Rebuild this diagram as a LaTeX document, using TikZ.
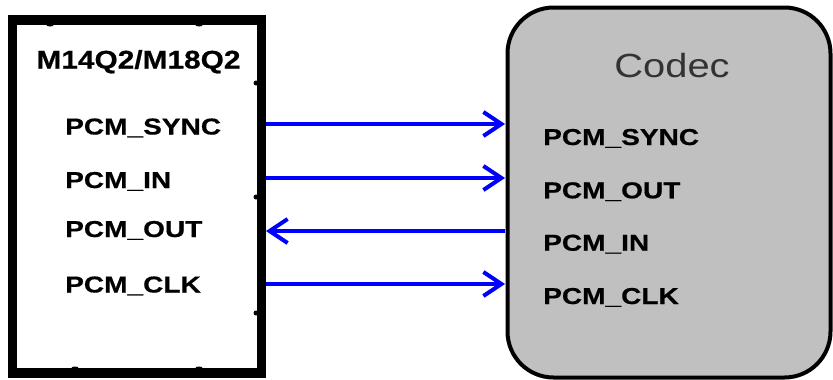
\documentclass[tikz,border=0pt]{standalone}
\usepackage{fontspec}
\setmainfont{Liberation Sans}
\newfontfamily\lblfont[FakeStretch=1.22,FakeBold=0.6]{Liberation Sans Bold}
\newfontfamily\ttlfont[FakeStretch=1.19]{Liberation Sans}
\newfontfamily\ttlbfont[FakeStretch=1.17,FakeBold=0.5]{Liberation Sans Bold}
\usetikzlibrary{arrows.meta,shapes.geometric}
\definecolor{codecgray}{HTML}{C0C0C0}
\definecolor{sigblue}{HTML}{0000FF}
\tikzset{
  lbl/.style={anchor=base west, inner sep=0pt, font=\lblfont\fontsize{23}{27}\selectfont, text=black},
  sig/.style={draw=sigblue, line width=4pt, -{Straight Barb[length=18pt,width=24pt]}},
  pin/.style={fill=black, circle, inner sep=0pt, minimum size=5pt},
  hpin/.style={fill=black, ellipse, inner sep=0pt, minimum width=7pt, minimum height=3pt}
}
\begin{document}
\begin{tikzpicture}[x=1pt,y=-1pt]
\useasboundingbox (0,0) rectangle (833,380);
% codec box
\draw[line width=4pt, fill=codecgray, rounded corners=46pt] (507.5,7.5) rectangle (830.5,377.5);
\node[anchor=base, inner sep=0pt, font=\ttlfont\fontsize{33.5}{38}\selectfont, text=black!80] (codec) at (672,77) {Codec};
% module box
\draw[line width=9.5pt] (12.5,20) rectangle (261.5,373);
\node[anchor=base, inner sep=0pt, font=\ttlbfont\fontsize{25.5}{30}\selectfont] (mod) at (138.5,68.5) {M14Q2/M18Q2};
% pins on module border
\node[pin] (p1) at (256,83) {};
\node[pin] (p2) at (256,197) {};
\node[pin] (p3) at (256,313) {};
\node[hpin] (p4) at (50,25) {};
\node[hpin] (p5) at (199,25) {};
\node[hpin] (p6) at (75,368) {};
\node[hpin] (p7) at (199,368) {};
% left labels
\node[lbl] (lsync) at (65,134.5) {PCM\_SYNC};
\node[lbl] (lin) at (65,188) {PCM\_IN};
\node[lbl] (lout) at (65,237) {PCM\_OUT};
\node[lbl] (lclk) at (65,292.5) {PCM\_CLK};
% right labels
\node[lbl] (rsync) at (543,145) {PCM\_SYNC};
\node[lbl] (rout) at (543,198.3) {PCM\_OUT};
\node[lbl] (rin) at (543,250.7) {PCM\_IN};
\node[lbl] (rclk) at (543,304) {PCM\_CLK};
% connector endpoints
\coordinate (a1) at (266,124); \coordinate (b1) at (505,124);
\coordinate (a2) at (266,178); \coordinate (b2) at (505,178);
\coordinate (a3) at (266,231); \coordinate (b3) at (505,231);
\coordinate (a4) at (266,284); \coordinate (b4) at (505,284);
\draw[sig] (a1) -- (b1);
\draw[sig] (a2) -- (b2);
\draw[sig] (b3) -- (a3);
\draw[sig] (a4) -- (b4);
\end{tikzpicture}
\end{document}
